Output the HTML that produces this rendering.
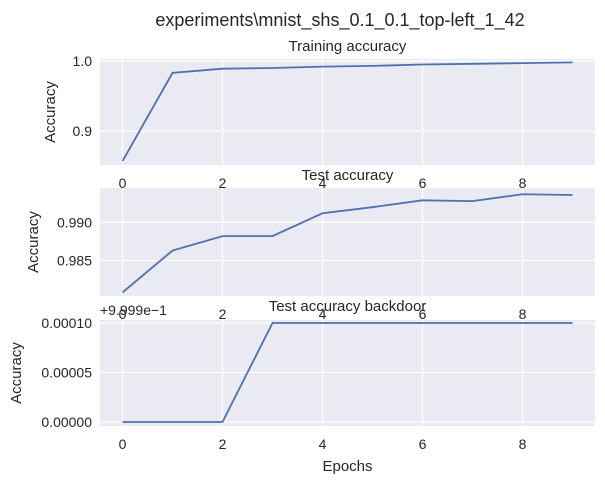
<!DOCTYPE html>
<html><head><meta charset="utf-8"><style>
body{margin:0;background:#fff}
text{font-family:"Liberation Sans","DejaVu Sans",sans-serif;fill:#262626}
</style></head><body>
<svg id="c" width="605" height="485"></svg>
<script>
const epochs=[0,1,2,3,4,5,6,7,8,9];
const trainAcc=[0.857,0.983,0.989,0.990,0.992,0.993,0.995,0.996,0.997,0.998];
const testAcc=[0.9808,0.9863,0.9882,0.9882,0.9912,0.9920,0.9929,0.9928,0.9937,0.9936];
const backdoorAcc=[0,0,0,0.0001,0.0001,0.0001,0.0001,0.0001,0.0001,0.0001];
const xTicks=[0,2,4,6,8];
const yTicks1=[0.9,1.0], yLab1=["0.9","1.0"];
const yTicks2=[0.985,0.990], yLab2=["0.985","0.990"];
const yTicks3=[0,0.00005,0.0001], yLab3=["0.00000","0.00005","0.00010"];
const NS="http://www.w3.org/2000/svg";
const svg=document.getElementById('c');
function mk(t,a,p){const e=document.createElementNS(NS,t);for(const k in a)e.setAttribute(k,a[k]);(p||svg).appendChild(e);return e;}
const L=100,R=595;
const xs=v=>L+(v+0.45)/9.9*(R-L);
function panel(name,top,bot,ymin,ymax,data,yt,yl,title,xlab,titleY){
  const ys=v=>bot-(v-ymin)/(ymax-ymin)*(bot-top);
  const g=mk('g',{});
  
  
  const bg=mk('rect',{x:L,y:top,width:R-L,height:bot-top,fill:'#eaeaf2'},g);
  
  
  xTicks.forEach(t=>{mk('line',{x1:xs(t),x2:xs(t),y1:top,y2:bot,stroke:'#fff','stroke-width':1.2},g);
    const tx=mk('text',{x:xs(t),y:bot+23,'text-anchor':'middle','font-size':14},g);tx.textContent=t;
    });
  yt.forEach((t,i)=>{mk('line',{x1:L,x2:R,y1:ys(t),y2:ys(t),stroke:'#fff','stroke-width':1.2},g);
    const tx=mk('text',{x:L-8,y:ys(t)+5,'text-anchor':'end','font-size':14},g);tx.textContent=yl[i];
    });
  const pl=mk('polyline',{points:epochs.map((e,i)=>xs(e)+','+ys(data[i])).join(' '),fill:'none',stroke:'#4c72b0','stroke-width':1.8},g);
  
  const tt=mk('text',{x:(L+R)/2,y:titleY,'text-anchor':'middle','font-size':15},g);tt.textContent=title;
  
  const yl2=mk('text',{x:0,y:0,'text-anchor':'middle','font-size':15,transform:`translate(${xlab},${(top+bot)/2}) rotate(-90)`},g);yl2.textContent='Accuracy';
  
}
panel('training-accuracy-panel',59,165,0.8514,1.00286,trainAcc,yTicks1,yLab1,'Training accuracy',55,51);
panel('test-accuracy-panel',188,296,0.98033,0.99452,testAcc,yTicks2,yLab2,'Test accuracy',38,180);
panel('backdoor-accuracy-panel',320,426,-0.000004,0.000103,backdoorAcc,yTicks3,yLab3,'Test accuracy backdoor',21,311);
const off=mk('text',{x:100,y:315,'font-size':14});off.textContent='+9.999e\u22121';

const xl=mk('text',{x:(L+R)/2,y:471,'text-anchor':'middle','font-size':15});xl.textContent='Epochs';

const st=mk('text',{x:340,y:26,'text-anchor':'middle','font-size':18});st.textContent='experiments\\mnist_shs_0.1_0.1_top-left_1_42';

</script>
</body></html>
